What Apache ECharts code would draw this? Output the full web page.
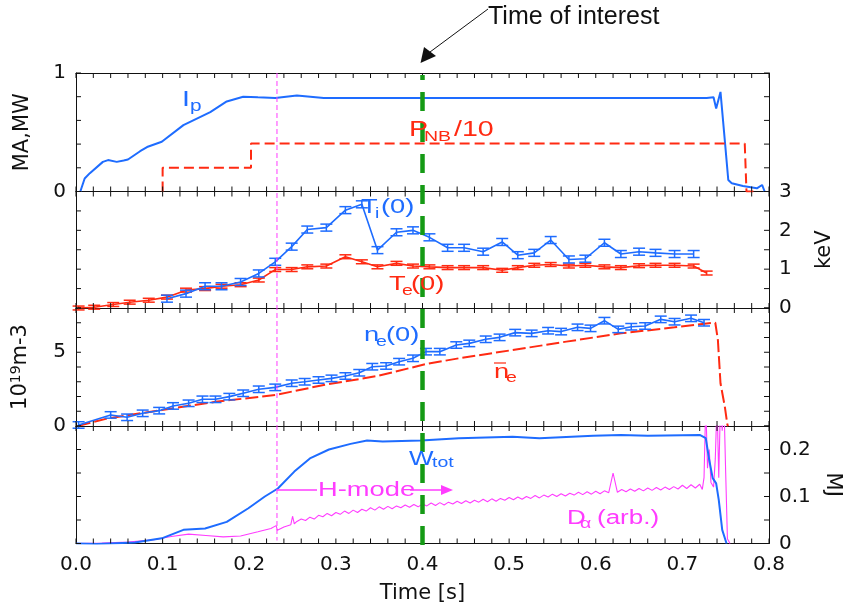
<!DOCTYPE html>
<html>
<head>
<meta charset="utf-8">
<script src="https://cdn.jsdelivr.net/npm/echarts@6/dist/echarts.min.js"></script>
<style>
html, body { margin: 0; padding: 0; background: #fff; }
#main { width: 846px; height: 611px; }
</style>
</head>
<body>
<div id="main"></div>
<script>
// ---- data, time in s ----
// panel 1: plasma current (MA) and beam power / 10 (MW)
var ipData = [[0.005,0],[0.010,0.11],[0.016,0.155],[0.031,0.25],[0.037,0.265],[0.047,0.25],[0.055,0.262],[0.060,0.27],
  [0.074,0.34],[0.082,0.375],[0.099,0.42],[0.124,0.56],[0.155,0.67],[0.174,0.76],[0.193,0.80],[0.210,0.795],[0.230,0.79],
  [0.255,0.81],[0.286,0.79],[0.400,0.79],[0.600,0.79],[0.728,0.79],[0.736,0.795],[0.739,0.70],[0.744,0.84],[0.749,0.43],
  [0.753,0.097],[0.757,0.069],[0.770,0.046],[0.786,0.027],[0.792,0.055],[0.795,0]];
var pnbData = [[0.100,0],[0.100,0.20],[0.202,0.20],[0.202,0.405],[0.772,0.405],[0.774,0],[0.782,0]];

// panel 2: central ion / electron temperature (keV)
var tiData = [[0.105,0.24],[0.127,0.37],[0.149,0.56],[0.168,0.56],[0.190,0.67],[0.211,0.89],[0.230,1.19],[0.249,1.58],
  [0.267,2.02],[0.289,2.07],[0.311,2.52],[0.330,2.67],[0.348,1.49],[0.370,1.95],[0.389,2.00],[0.408,1.82],[0.429,1.55],
  [0.448,1.55],[0.470,1.45],[0.492,1.70],[0.510,1.36],[0.529,1.42],[0.548,1.75],[0.569,1.25],[0.588,1.27],[0.610,1.68],
  [0.629,1.39],[0.650,1.45],[0.669,1.42],[0.691,1.39],[0.713,1.39]];
var teData = [[0.003,0],[0.021,0.02],[0.043,0.09],[0.062,0.15],[0.084,0.20],[0.105,0.28],[0.127,0.46],[0.149,0.50],
  [0.168,0.56],[0.190,0.60],[0.211,0.72],[0.230,0.99],[0.249,0.99],[0.267,1.06],[0.289,1.08],[0.311,1.32],[0.330,1.19],
  [0.348,1.06],[0.370,1.15],[0.389,1.08],[0.408,1.06],[0.429,1.04],[0.448,1.04],[0.470,1.04],[0.492,0.97],[0.510,1.04],
  [0.529,1.10],[0.548,1.12],[0.569,1.08],[0.588,1.10],[0.610,1.06],[0.629,1.04],[0.650,1.09],[0.669,1.10],[0.691,1.10],
  [0.713,1.08],[0.728,0.90]];
var tiErr = 0.09;
var teErr = 0.05;

// panel 3: central and line-averaged density (1e19 m-3)
var ne0Data = [[0.003,0.07],[0.040,0.75],[0.059,0.59],[0.077,0.86],[0.096,1.04],[0.112,1.36],[0.130,1.54],[0.146,1.81],
  [0.161,1.81],[0.177,1.99],[0.193,2.22],[0.211,2.49],[0.230,2.62],[0.249,2.90],[0.264,3.00],[0.280,3.12],[0.295,3.23],
  [0.311,3.39],[0.327,3.61],[0.342,4.02],[0.358,4.07],[0.373,4.36],[0.389,4.59],[0.404,5.04],[0.420,5.04],[0.439,5.49],
  [0.454,5.60],[0.473,5.88],[0.489,6.01],[0.507,6.33],[0.526,6.28],[0.545,6.46],[0.560,6.40],[0.579,6.69],[0.594,6.62],
  [0.610,7.14],[0.626,6.55],[0.641,6.73],[0.657,6.78],[0.675,7.23],[0.691,7.07],[0.710,7.30],[0.725,7.00]];
var neErr = 0.22;
var neBarData = [[0.002,0],[0.037,0.52],[0.099,1.08],[0.161,1.64],[0.230,2.10],[0.286,2.78],[0.348,3.39],[0.404,4.20],
  [0.442,4.59],[0.504,5.15],[0.566,5.72],[0.629,6.28],[0.691,6.69],[0.735,7.00],[0.738,7.00],[0.741,5.83],[0.744,2.90],
  [0.749,1.31],[0.752,0.07],[0.753,0]];

// panel 4: stored energy (MJ) and D-alpha (arb.)
var wtotData = [[0,0],[0.024,-0.001],[0.068,0.002],[0.099,0.011],[0.124,0.029],[0.149,0.032],[0.174,0.046],[0.199,0.075],
  [0.218,0.100],[0.233,0.117],[0.252,0.153],[0.270,0.181],[0.292,0.200],[0.317,0.212],[0.336,0.219],[0.354,0.217],
  [0.398,0.219],[0.442,0.224],[0.504,0.227],[0.535,0.224],[0.597,0.229],[0.629,0.231],[0.660,0.229],[0.720,0.231],
  [0.727,0.224],[0.731,0.178],[0.735,0.139],[0.739,0.128],[0.742,0.093],[0.746,0.029],[0.751,0]];
var dalphaData = [[0,0],[0.030,0.001],[0.060,0.003],[0.090,0.008],[0.110,0.015],[0.130,0.020],[0.150,0.017],[0.170,0.014],
  [0.190,0.016],[0.210,0.025],[0.225,0.032],[0.231,0.038],[0.2325,0.028],[0.240,0.035],[0.248,0.040],[0.250,0.058],
  [0.252,0.042],[0.255,0.047],[0.260,0.052],[0.265,0.049],[0.270,0.056],[0.275,0.052],[0.280,0.060],[0.285,0.057],
  [0.290,0.064],[0.295,0.059],[0.300,0.066],[0.305,0.062],[0.310,0.069],[0.315,0.064],[0.320,0.071],[0.325,0.066],
  [0.330,0.073],[0.335,0.069],[0.340,0.076],[0.345,0.071],[0.350,0.078],[0.355,0.073],[0.360,0.079],[0.365,0.074],
  [0.370,0.080],[0.375,0.076],[0.380,0.082],[0.385,0.077],[0.390,0.083],[0.395,0.078],[0.400,0.084],[0.405,0.080],
  [0.410,0.086],[0.415,0.081],[0.420,0.087],[0.425,0.082],[0.430,0.088],[0.435,0.084],[0.440,0.090],[0.445,0.085],
  [0.450,0.091],[0.455,0.086],[0.460,0.092],[0.465,0.088],[0.470,0.094],[0.475,0.089],[0.480,0.095],[0.485,0.090],
  [0.490,0.096],[0.495,0.092],[0.500,0.098],[0.505,0.093],[0.510,0.099],[0.515,0.094],[0.520,0.100],[0.525,0.096],
  [0.530,0.102],[0.535,0.097],[0.540,0.103],[0.545,0.099],[0.550,0.105],[0.555,0.100],[0.560,0.106],[0.565,0.101],
  [0.570,0.107],[0.575,0.103],[0.580,0.109],[0.585,0.104],[0.590,0.110],[0.595,0.105],[0.600,0.111],[0.605,0.106],
  [0.610,0.112],[0.615,0.108],[0.620,0.150],[0.625,0.109],[0.630,0.115],[0.635,0.110],[0.640,0.116],[0.645,0.111],
  [0.650,0.117],[0.655,0.112],[0.660,0.118],[0.665,0.113],[0.670,0.119],[0.675,0.114],[0.680,0.120],[0.685,0.115],
  [0.690,0.121],[0.695,0.116],[0.700,0.124],[0.705,0.117],[0.710,0.125],[0.715,0.118],[0.720,0.126],[0.723,0.115],
  [0.725,0.140],[0.727,0.300],[0.729,0.160],[0.731,0.200],[0.733,0.130],[0.736,0.120],[0.738,0.180],[0.740,0.300],
  [0.742,0.140],[0.744,0.300],[0.746,0.240],[0.748,0.300],[0.750,0.150],[0.752,0.010],[0.755,0]];

// tick labels and tick positions per panel
var xTickLabels = ['0.0','0.1','0.2','0.3','0.4','0.5','0.6','0.7','0.8'];
var xTicks = [0,0.02,0.04,0.06,0.08,0.1,0.12,0.14,0.16,0.18,0.2,0.22,0.24,0.26,0.28,0.3,0.32,0.34,0.36,0.38,0.4,
  0.42,0.44,0.46,0.48,0.5,0.52,0.54,0.56,0.58,0.6,0.62,0.64,0.66,0.68,0.7,0.72,0.74,0.76,0.78,0.8];
var p1Labels = [0, 1];
var p2Labels = [0, 1, 2, 3];
var p3Labels = [0, 5];
var p4Labels = [0, 0.1, 0.2];
var p1Ticks = [0, 0.2, 0.4, 0.6, 0.8, 1];
var p2Ticks = [0, 0.5, 1, 1.5, 2, 2.5, 3];
var p3Ticks = [0, 1, 2, 3, 4, 5, 6, 7, 8];
var p4Ticks = [0, 0.05, 0.1, 0.15, 0.2, 0.25];

var tInterest = 0.4;
var tHmode = 0.232;

var BLUE = '#1e6cff', RED = '#ff2a12', MAG = '#ff3cff', GREEN = '#159a15', INK = '#111';
var AXFONT = 'DejaVu Sans';

var chart = echarts.init(document.getElementById('main'));

var grids = [
  { left: 76, width: 693, top: 73, height: 118.5 },
  { left: 76, width: 693, top: 191.5, height: 116.5 },
  { left: 76, width: 693, top: 308, height: 118 },
  { left: 76, width: 693, top: 426, height: 117.5 }
];
grids.forEach(function (g) { g.outerBoundsMode = 'none'; });

var xAxes = [];
for (var i = 0; i < 4; i++) {
  ['bottom', 'top'].forEach(function (pos) {
    var main = (i === 3 && pos === 'bottom');
    xAxes.push({
      type: 'value', gridIndex: i, position: pos, min: 0, max: 0.8, interval: 0.1,
      axisLine: { show: true, onZero: false, lineStyle: { color: INK, width: 1 } },
      axisTick: { show: false },
      splitLine: { show: false },
      axisLabel: {
        show: main, margin: 11, fontSize: 20, fontFamily: AXFONT, color: INK,
        formatter: function (v) { return xTickLabels[Math.round(v * 10)]; }
      },
      name: main ? 'Time [s]' : '', nameLocation: 'middle', nameGap: 40,
      nameTextStyle: { fontSize: 21, fontFamily: AXFONT, color: INK }
    });
  });
}

function pick(labels) {
  return function (v) {
    for (var k = 0; k < labels.length; k++) {
      if (Math.abs(labels[k] - v) < 1e-6) return String(labels[k]);
    }
    return '';
  };
}

var yCfg = [
  { max: 1, interval: 0.2, side: 'left', labels: p1Labels, ticks: p1Ticks, name: 'MA,MW', gap: 43, rot: 90 },
  { max: 3, interval: 0.5, side: 'right', labels: p2Labels, ticks: p2Ticks, name: 'keV', gap: 45, rot: 90 },
  { max: 8, interval: 1, side: 'left', labels: p3Labels, ticks: p3Ticks, name: '10{s|19}m-3', gap: 43, rot: 90 },
  { max: 0.25, interval: 0.05, side: 'right', labels: p4Labels, ticks: p4Ticks, name: 'MJ', gap: 48, rot: -90 }
];
var yAxes = [];
yCfg.forEach(function (c, gi) {
  ['left', 'right'].forEach(function (pos) {
    var lab = (pos === c.side);
    yAxes.push({
      type: 'value', gridIndex: gi, position: pos, min: 0, max: c.max, interval: c.interval,
      axisLine: { show: true, onZero: false, lineStyle: { color: INK, width: 1 } },
      axisTick: { show: false },
      splitLine: { show: false },
      axisLabel: { show: lab, margin: 10, fontSize: 20, fontFamily: AXFONT, color: INK, formatter: pick(c.labels) },
      name: lab ? c.name : '', nameLocation: 'middle', nameGap: c.gap, nameRotate: c.rot,
      nameTextStyle: { fontSize: 21, fontFamily: AXFONT, color: INK,
        rich: { s: { fontSize: 14, fontFamily: AXFONT, color: INK, verticalAlign: 'top', lineHeight: 24 } } }
    });
  });
});

function errBars(err, color) {
  return function (params, api) {
    var t = api.value(0), v = api.value(1);
    var lo = api.coord([t, v - err]), hi = api.coord([t, v + err]);
    var w = 6, st = { stroke: color, lineWidth: 1.5 };
    return { type: 'group', children: [
      { type: 'line', shape: { x1: lo[0], y1: lo[1], x2: hi[0], y2: hi[1] }, style: st },
      { type: 'line', shape: { x1: lo[0] - w, y1: lo[1], x2: lo[0] + w, y2: lo[1] }, style: st },
      { type: 'line', shape: { x1: hi[0] - w, y1: hi[1], x2: hi[0] + w, y2: hi[1] }, style: st }
    ] };
  };
}

function line(data, gi, color, width, dash, z) {
  return {
    type: 'line', data: data, xAxisIndex: gi * 2, yAxisIndex: gi * 2, showSymbol: false, symbol: 'none',
    animation: false, z: z || 2, clip: true,
    lineStyle: { color: color, width: width, type: dash || 'solid' }
  };
}
function bars(data, gi, err, color) {
  return {
    type: 'custom', coordinateSystem: 'cartesian2d', xAxisIndex: gi * 2, yAxisIndex: gi * 2,
    data: data, encode: { x: 0, y: 1 }, renderItem: errBars(err, color), animation: false, z: 3
  };
}

chart.setOption({
  animation: false,
  backgroundColor: '#fff',
  grid: grids,
  xAxis: xAxes,
  yAxis: yAxes,
  series: [
    line(ipData, 0, BLUE, 2),
    line(pnbData, 0, RED, 2, [10, 5]),
    line(teData, 1, RED, 1.6),
    bars(teData, 1, teErr, RED),
    line(tiData, 1, BLUE, 1.6, null, 4),
    bars(tiData, 1, tiErr, BLUE),
    line(neBarData, 2, RED, 2, [13, 4]),
    line(ne0Data, 2, BLUE, 1.6, null, 4),
    bars(ne0Data, 2, neErr, BLUE),
    line(dalphaData, 3, MAG, 1.1),
    line(wtotData, 3, BLUE, 2, null, 4)
  ]
});

// annotations and inward ticks, placed through the axes' own scales
var xI = chart.convertToPixel({ xAxisIndex: 0 }, tInterest);
var xH = chart.convertToPixel({ xAxisIndex: 0 }, tHmode);
var yTop = chart.convertToPixel({ yAxisIndex: 0 }, 1);
var yBot = chart.convertToPixel({ yAxisIndex: 6 }, 0);

var TICK = 5;
var tickEls = [];
var tickStyle = { stroke: INK, lineWidth: 1 };
yCfg.forEach(function (c, gi) {
  var yb = chart.convertToPixel({ yAxisIndex: gi * 2 }, 0);
  var yt = chart.convertToPixel({ yAxisIndex: gi * 2 }, c.max);
  var xl = chart.convertToPixel({ xAxisIndex: gi * 2 }, 0);
  var xr = chart.convertToPixel({ xAxisIndex: gi * 2 }, 0.8);
  xTicks.forEach(function (t) {
    var px = chart.convertToPixel({ xAxisIndex: gi * 2 }, t);
    tickEls.push({ type: 'line', z: 80, silent: true, shape: { x1: px, y1: yb, x2: px, y2: yb - TICK }, style: tickStyle });
    tickEls.push({ type: 'line', z: 80, silent: true, shape: { x1: px, y1: yt, x2: px, y2: yt + TICK }, style: tickStyle });
  });
  c.ticks.forEach(function (v) {
    var py = chart.convertToPixel({ yAxisIndex: gi * 2 }, v);
    tickEls.push({ type: 'line', z: 80, silent: true, shape: { x1: xl, y1: py, x2: xl + TICK, y2: py }, style: tickStyle });
    tickEls.push({ type: 'line', z: 80, silent: true, shape: { x1: xr, y1: py, x2: xr - TICK, y2: py }, style: tickStyle });
  });
});

var LBL = 'Liberation Sans';
function txt(x, y, s, size, color, sx) {
  return { type: 'text', x: x, y: y, scaleX: sx || 1.3, z: 100,
    style: { text: s, fontSize: size, fontFamily: LBL, fill: color, verticalAlign: 'middle', align: 'left' } };
}

var annot = [
  // H-mode onset
  { type: 'line', z: 90, shape: { x1: xH, y1: yTop, x2: xH, y2: yBot - 3 },
    style: { stroke: MAG, lineWidth: 1, lineDash: [5, 3] } },
  // time of interest
  { type: 'line', z: 95, shape: { x1: xI, y1: yTop + 2, x2: xI, y2: yBot + 5 },
    style: { stroke: GREEN, lineWidth: 4.5, lineDash: [19, 12], lineDashOffset: 14 } },
  { type: 'line', z: 95, shape: { x1: 488, y1: 9, x2: 430, y2: 52 }, style: { stroke: INK, lineWidth: 1 } },
  { type: 'polygon', z: 95, shape: { points: [[420.5, 63], [424, 47], [436, 56]] }, style: { fill: INK } },
  { type: 'text', x: 488, y: 17, z: 100,
    style: { text: 'Time of interest', fontSize: 25, fontFamily: LBL, fill: INK, verticalAlign: 'middle' } },

  txt(182, 100, 'I', 22, BLUE),
  txt(190, 107, 'p', 16, BLUE),
  txt(409, 130, 'P', 22, RED),
  txt(424, 137, 'NB', 15, RED),
  txt(454, 130, '/10', 22, RED),

  txt(361, 207, 'T', 21, BLUE),
  txt(375, 214, 'i', 15, BLUE),
  txt(381, 207, '(0)', 21, BLUE),
  txt(389, 284, 'T', 21, RED),
  txt(402, 291, 'e', 15, RED),
  txt(411, 284, '(0)', 21, RED),

  txt(364, 335, 'n', 21, BLUE),
  txt(376, 342, 'e', 15, BLUE),
  txt(386, 335, '(0)', 21, BLUE),
  txt(494, 372, 'n', 21, RED),
  { type: 'line', z: 100, shape: { x1: 494, y1: 363, x2: 506, y2: 363 }, style: { stroke: RED, lineWidth: 1.2 } },
  txt(506, 378, 'e', 15, RED),

  txt(409, 459, 'W', 20, BLUE),
  txt(432, 463, 'tot', 15, BLUE),

  { type: 'line', z: 100, shape: { x1: xH, y1: 490, x2: 317, y2: 490 }, style: { stroke: MAG, lineWidth: 1.5 } },
  txt(318, 490, 'H-mode', 21, MAG),
  { type: 'line', z: 100, shape: { x1: 410, y1: 490, x2: 443, y2: 490 }, style: { stroke: MAG, lineWidth: 1.5 } },
  { type: 'polygon', z: 100, shape: { points: [[441, 485], [453, 490], [441, 495]] }, style: { fill: MAG } },
  txt(567, 518, 'D', 20, MAG),
  txt(580, 524, '\u03b1', 15, MAG),
  txt(597, 518, '(arb.)', 20, MAG)
];

chart.setOption({ graphic: tickEls.concat(annot) });
</script>
</body>
</html>
